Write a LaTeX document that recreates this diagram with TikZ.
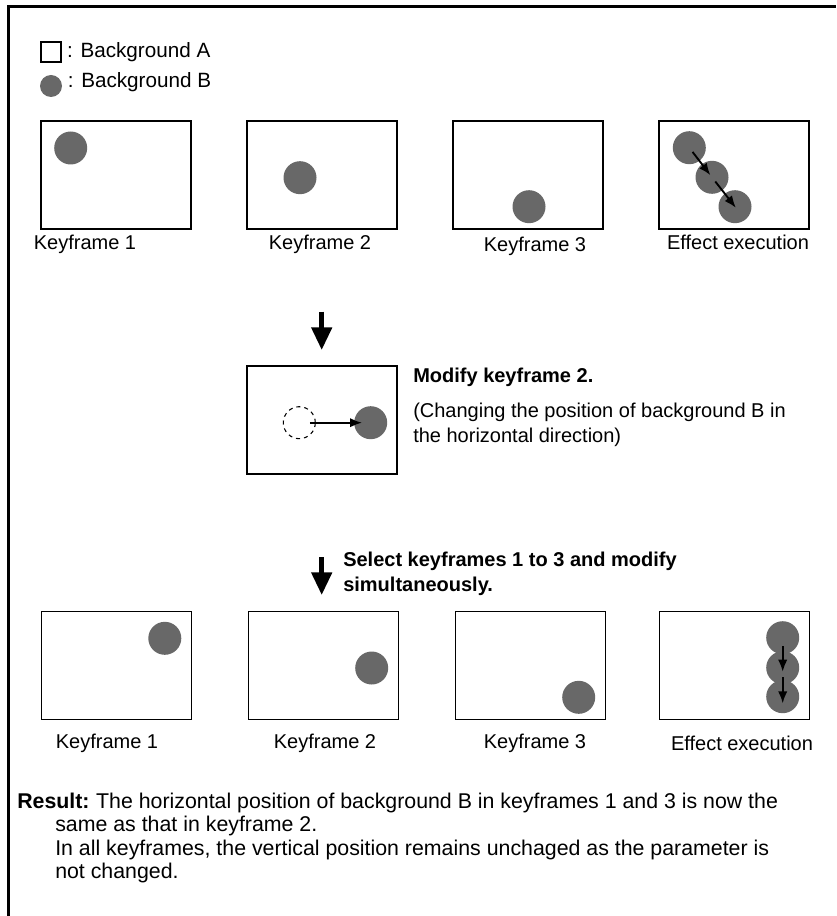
\documentclass[tikz,border=0pt]{standalone}
\usepackage{fontspec}
\setmainfont{Liberation Sans}
\usepackage{tikz}
\usetikzlibrary{arrows.meta,positioning}
\definecolor{bgBgray}{RGB}{104,104,104}

\begin{document}
\begin{tikzpicture}[x=0.75pt,y=-0.75pt]
	\tikzstyle{Frame}	= [draw, line width=0.9pt, minimum width=112.5pt, minimum height=81pt, inner sep=0pt]
	\tikzstyle{BgA}		= [draw, line width=0.8pt, minimum size=15pt, inner sep=0pt]
	\tikzstyle{BgB}		= [circle, fill=bgBgray, minimum size=24.75pt, inner sep=0pt]
	\tikzstyle{Ghost}	= [circle, draw, dashed, line width=0.8pt, minimum size=24pt, inner sep=0pt]
	\tikzstyle{Txt}		= [font=\fontsize{15}{18.75}\selectfont, inner sep=0pt]
	\tikzstyle{Move}	= [line width=1.4pt, -{Latex[length=9pt,width=7pt]}]
	\tikzstyle{BigArrow}	= [line width=3.6pt, -{Triangle[length=17pt,width=15pt]}]

	\useasboundingbox (0,0) rectangle (836,916);
	\draw [line width=2pt] (8.7,916) -- (8.7,6.8) -- (836,6.8);

	% legend
	\node (legA) at (51,52) [BgA] {};
	\node (legB) at (51,86) [BgB, minimum size=16.5pt] {};
	\node [Txt, font=\fontsize{15.5}{18}\selectfont, right=4pt of legA] {: Background A};
	\node [Txt, font=\fontsize{15.5}{18}\selectfont, right=4pt of legB, yshift=3pt] {: Background B};

	% keyframes before
	\foreach \n/\x in {1/116, 2/322, 3/528, 4/734}
		\node (top\n) at (\x,175) [Frame] {};
	\foreach \n/\x/\y in {1/70.7/148, 2/300/177.7, 3/529/206.7, e1/689.3/147.7, e2/712/177.3, e3/735/206.7}
		\node (a\n) at (\x,\y) [BgB] {};
	\draw [Move, shorten <=4pt, shorten >=2pt] (ae1.center) to (ae2.center);
	\draw [Move, shorten <=4pt, shorten >=-1pt] (ae2.center) to (ae3.center);
	\foreach \x/\y/\t in {85/244/Keyframe 1, 320/244/Keyframe 2, 535/246/Keyframe 3, 738/242/Effect execution}
		\node at (\x,\y) [Txt] {\t};

	% modification of keyframe 2
	\coordinate (d1s) at (321.7,311.7);
	\coordinate (d1e) at (321.7,350);
	\draw [BigArrow] (d1s) -- (d1e);
	\node (mid) at (322,420) [Frame] {};
	\node (old) at (299.3,422.7) [Ghost] {};
	\node (new) at (370.7,422.7) [BgB] {};
	\draw [Move, shorten <=8pt, shorten >=6.5pt] (old.center) to (new.center);
	\node (modT) at (413,377) [Txt, anchor=west, font=\fontsize{15}{18.75}\selectfont\bfseries] {Modify keyframe 2.};
	\node [Txt, anchor=north west, align=left] at (413,403) {(Changing the position of background B in\\the horizontal direction)};

	\coordinate (d2s) at (321.7,557);
	\coordinate (d2e) at (321.7,595);
	\draw [BigArrow] (d2s) -- (d2e);
	\node [Txt, anchor=north west, align=left, font=\fontsize{15}{18.75}\selectfont\bfseries] at (343,552) {Select keyframes 1 to 3 and modify\\simultaneously.};

	% keyframes after
	\foreach \n/\x in {1/116.5, 2/323.5, 3/530.5, 4/734.5}
		\node (bot\n) at (\x,665.5) [Frame] {};
	\foreach \n/\x/\y in {1/164.8/638.3, 2/371.7/668, 3/578.7/697.3, e1/782.7/637.7, e2/782.7/667.7, e3/782.7/696.7}
		\node (b\n) at (\x,\y) [BgB] {};
	\draw [Move, shorten <=6.5pt, shorten >=-3pt] (be1.center) to (be2.center);
	\draw [Move, shorten <=7pt, shorten >=-5pt] (be2.center) to (be3.center);
	\foreach \x/\y/\t in {107/743/Keyframe 1, 325/743/Keyframe 2, 535/743/Keyframe 3, 742/743/Effect execution}
		\node at (\x,\y) [Txt] {\t};

	% result
	\node (res) at (17,803) [Txt, anchor=west, font=\fontsize{16}{17.5}\selectfont] {\textbf{Result:}\hspace{-1pt} The horizontal position of background B in keyframes 1 and 3 is now the};
	\node [Txt, anchor=north west, align=left, font=\fontsize{16}{17.5}\selectfont] at (55,816) {same as that in keyframe 2.\\In all keyframes, the vertical position remains unchaged as the parameter is\\not changed.};
\end{tikzpicture}
\end{document}
